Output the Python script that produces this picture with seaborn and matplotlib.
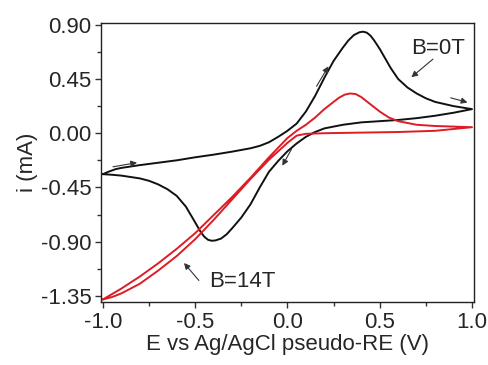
import numpy as np
import pandas as pd
import matplotlib
matplotlib.use("Agg")
import matplotlib.pyplot as plt
import seaborn as sns
from matplotlib.ticker import MultipleLocator, FixedLocator

# ---- data ----
# B = 0T, forward scan (-1 -> +1)
e0_fwd = [-1.0, -0.97, -0.93, -0.9, -0.8, -0.7, -0.6, -0.5, -0.4, -0.3, -0.2, -0.15, -0.1, -0.05,
          0.0, 0.05, 0.1, 0.15, 0.2, 0.25, 0.3, 0.33, 0.36, 0.39, 0.41, 0.43, 0.45, 0.47,
          0.5, 0.53, 0.56, 0.6, 0.65, 0.7, 0.75, 0.8, 0.9, 1.0]
i0_fwd = [-0.34, -0.32, -0.298, -0.288, -0.265, -0.245, -0.225, -0.2, -0.178, -0.153, -0.125, -0.105, -0.075, -0.03,
          0.02, 0.08, 0.18, 0.31, 0.46, 0.60, 0.71, 0.77, 0.815, 0.838, 0.843, 0.835, 0.81, 0.77,
          0.70, 0.62, 0.54, 0.45, 0.38, 0.33, 0.29, 0.26, 0.225, 0.20]
# B = 0T, reverse scan (+1 -> -1)
e0_rev = [1.0, 0.9, 0.8, 0.7, 0.6, 0.5, 0.4, 0.3, 0.2, 0.15, 0.1, 0.05, 0.0,
          -0.05, -0.1, -0.15, -0.2, -0.25, -0.3, -0.33, -0.36, -0.39, -0.41, -0.43, -0.45, -0.47,
          -0.5, -0.55, -0.6, -0.65, -0.7, -0.75, -0.8, -0.9, -0.95, -1.0]
i0_rev = [0.20, 0.17, 0.145, 0.125, 0.11, 0.10, 0.09, 0.07, 0.04, 0.01, -0.03, -0.085, -0.15,
          -0.23, -0.32, -0.45, -0.59, -0.70, -0.79, -0.84, -0.875, -0.89, -0.893, -0.885, -0.86, -0.82,
          -0.74, -0.61, -0.52, -0.465, -0.425, -0.395, -0.375, -0.352, -0.345, -0.34]
# B = 14T, forward scan
e14_fwd = [-1.0, -0.95, -0.9, -0.8, -0.7, -0.6, -0.5, -0.4, -0.3, -0.2, -0.1, 0.0, 0.05,
           0.1, 0.15, 0.2, 0.25, 0.28, 0.31, 0.34, 0.37, 0.4, 0.45, 0.5, 0.55, 0.6,
           0.7, 0.8, 0.9, 1.0]
i14_fwd = [-1.38, -1.335, -1.29, -1.19, -1.08, -0.96, -0.83, -0.68, -0.53, -0.37, -0.20, -0.04, 0.02,
           0.07, 0.13, 0.20, 0.26, 0.295, 0.32, 0.33, 0.325, 0.30, 0.24, 0.18, 0.13, 0.10,
           0.07, 0.06, 0.055, 0.05]
# B = 14T, reverse scan
e14_rev = [1.0, 0.8, 0.6, 0.4, 0.2, 0.1, 0.05, 0.0, -0.1, -0.2, -0.3, -0.4,
           -0.5, -0.6, -0.7, -0.8, -0.9, -0.95, -1.0]
i14_rev = [0.05, 0.02, 0.01, 0.005, 0.0, -0.005, -0.02, -0.08, -0.22, -0.38, -0.55, -0.72,
           -0.88, -1.02, -1.14, -1.25, -1.33, -1.36, -1.38]

x_ticks = [-1.0, -0.5, 0.0, 0.5, 1.0]
y_ticks = [-1.35, -0.90, -0.45, 0.00, 0.45, 0.90]

# ---- build table ----
rows = []
for name, ef, jf, er, jr in [("B=0T", e0_fwd, i0_fwd, e0_rev, i0_rev),
                             ("B=14T", e14_fwd, i14_fwd, e14_rev, i14_rev)]:
    es = list(ef) + list(er)
    js = list(jf) + list(jr)
    for k, (e, j) in enumerate(zip(es, js)):
        rows.append({"E": e, "i": j, "field": name, "order": k})
df = pd.DataFrame(rows)

sns.set_theme(style="ticks")
plt.rcParams['font.family'] = ['Liberation Sans', 'DejaVu Sans']

fig = plt.figure(figsize=(4.88, 3.65), dpi=100)
ax = fig.add_axes([0.207, 0.173, 0.764, 0.763])

sns.lineplot(data=df, x="E", y="i", hue="field", units="field", estimator=None,
             sort=False, palette={"B=0T": "#111111", "B=14T": "#dd1c24"},
             linewidth=1.4, legend=False, ax=ax)
for ln in ax.lines:
    ln.set_solid_joinstyle("round")

ax.set_xlim(-1.01, 1.01)
ax.set_ylim(-1.40, 0.912)
ax.xaxis.set_major_locator(FixedLocator(x_ticks))
ax.yaxis.set_major_locator(FixedLocator(y_ticks))
ax.xaxis.set_minor_locator(MultipleLocator(0.25))
ax.yaxis.set_minor_locator(MultipleLocator(0.225))
ax.set_xticklabels([f"{v:.1f}" for v in x_ticks])
ax.set_yticklabels([f"{v:.2f}" for v in y_ticks])
ax.tick_params(axis="both", which="major", direction="out", length=4, width=1,
               labelsize=16, pad=3, color="#333333")
ax.tick_params(axis="both", which="minor", direction="out", length=3, width=1,
               color="#333333")
for s in ax.spines.values():
    s.set_linewidth(1.0)
    s.set_color("#222222")
    s.set_visible(True)

ax.set_xlabel("E vs Ag/AgCl pseudo-RE (V)", fontsize=16, labelpad=1)
ax.set_ylabel("i (mA)", fontsize=16, labelpad=2)

# annotations
arrow_kw = dict(arrowstyle="-|>", color="#333333", lw=0.8, mutation_scale=9)
ax.text(0.815, 0.705, "B=0T", fontsize=16, ha="center", va="center")
ax.annotate("", xy=(0.66, 0.45), xytext=(0.80, 0.63), arrowprops=arrow_kw)
ax.text(-0.245, -1.235, "B=14T", fontsize=16, ha="center", va="center")
ax.annotate("", xy=(-0.57, -1.06), xytext=(-0.47, -1.24), arrowprops=arrow_kw)

# scan-direction arrows
ax.annotate("", xy=(-0.80, -0.24), xytext=(-0.96, -0.283), arrowprops=arrow_kw)
ax.annotate("", xy=(0.23, 0.575), xytext=(0.15, 0.37), arrowprops=arrow_kw)
ax.annotate("", xy=(0.99, 0.25), xytext=(0.87, 0.30), arrowprops=arrow_kw)
ax.annotate("", xy=(-0.035, -0.29), xytext=(0.03, -0.11), arrowprops=arrow_kw)

fig.savefig("out.png", dpi=100)
